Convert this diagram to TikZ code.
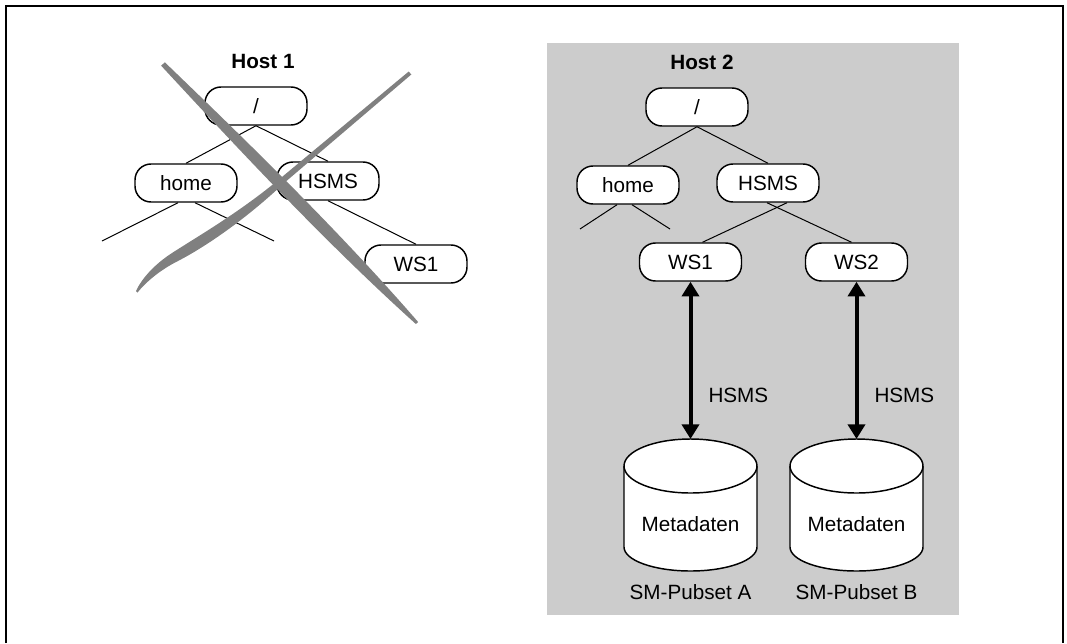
\documentclass[tikz,border=0pt]{standalone}
\usepackage{fontspec}
\setmainfont{Liberation Sans}
\usetikzlibrary{arrows.meta,calc}
\definecolor{hostgray}{HTML}{CCCCCC}
\definecolor{crossgray}{HTML}{808080}
\begin{document}
\begin{tikzpicture}[x=0.75pt,y=-0.75pt,
  every node/.style={font=\fontsize{15.5}{18}\selectfont},
  treenode/.style={draw, fill=white, line width=1.1pt, rounded corners=12pt,
    minimum width=76.5pt, minimum height=28.5pt, inner sep=0pt},
  treeline/.style={line width=0.75pt},
  dataarrow/.style={line width=3pt,
    {Triangle[length=11pt,width=12.75pt]}-{Triangle[length=11pt,width=12.75pt]}},
  hosttitle/.style={font=\fontsize{15.5}{18}\selectfont\bfseries},
  arrowlabel/.style={anchor=west, inner sep=0pt},
  crossstroke/.style={fill=crossgray, draw=none},
  cylbody/.style={draw, fill=white, line width=1.1pt},
  frameline/.style={line width=1.5pt}]
\useasboundingbox (0,0) rectangle (1067,643);
% frame and host 2 background
\draw[frameline] (5.5,643) -- (5.5,5.5) -- (1063,5.5) -- (1063,643);
\fill[hostgray] (547,43) rectangle (959,615);

% ---------------- Host 1 ----------------
\node[hosttitle] (h1title) at (263,61.5) {Host 1};
\node[treenode] (rootA) at (256,106) {/};
\node[treenode] (homeA) at (186,183) {home};
\node[treenode] (hsmsA) at (328,181) {HSMS};
\node[treenode] (wsA) at (416,264) {WS1};
\coordinate (leafA1) at (102,241);
\coordinate (leafA2) at (274,241);
\draw[treeline] (rootA.south) -- (homeA.north);
\draw[treeline] (rootA.south) -- (hsmsA.north);
\draw[treeline] (hsmsA.south) -- (wsA.north);
\draw[treeline] ($(homeA.south)+(-8,0)$) -- (leafA1);
\draw[treeline] ($(homeA.south)+(9,0)$) -- (leafA2);

% cross-out strokes
\fill[crossstroke] (164.8,62.25) .. controls (251.95,146.13) and (338.6,230.5) .. (418.1,321.95)
  -- (415.9,324.05) .. controls (326,242.9) and (243.39,154.53) .. (161.2,65.75) -- cycle;
\fill[crossstroke] (408.7,71.5) -- (281.1,177.7)
  .. controls (240,212) and (200,235) .. (172,253)
  .. controls (155,264) and (142,278) .. (136,291)
  -- (137.5,292.5)
  .. controls (146,282) and (160,270) .. (178,261)
  .. controls (205,247) and (245,220) .. (284.9,182.3)
  -- (411.3,74.5) -- cycle;

% ---------------- Host 2 ----------------
\node[hosttitle] (h2title) at (702,62.5) {Host 2};
\node[treenode] (rootB) at (697,107) {/};
\node[treenode] (homeB) at (628,185) {home};
\node[treenode] (hsmsB) at (768,183) {HSMS};
\node[treenode] (ws1B) at (690.5,262) {WS1};
\node[treenode] (ws2B) at (856.5,262) {WS2};
\coordinate (leafB1) at (580,229);
\coordinate (leafB2) at (670,229);
\draw[treeline] (rootB.south) -- (homeB.north);
\draw[treeline] (rootB.south) -- (hsmsB.north);
\draw[treeline] ($(homeB.south)+(-11,0)$) -- (leafB1);
\draw[treeline] ($(homeB.south)+(4,0)$) -- (leafB2);
\draw[treeline] ($(hsmsB.south)+(19,0)$) -- ($(ws1B.north)+(12,0)$);
\draw[treeline] ($(hsmsB.south)+(-1,0)$) -- ($(ws2B.north)+(-5,0)$);

% cylinders
\begin{scope}[shift={(690.5,0)}]
  \draw[cylbody] (-66.5,466) -- (-66.5,547) .. controls (-66.5,560.26) and (-36.73,571) .. (0,571)
    .. controls (36.73,571) and (66.5,560.26) .. (66.5,547) -- (66.5,466)
    .. controls (66.5,451.09) and (36.73,439) .. (0,439)
    .. controls (-36.73,439) and (-66.5,451.09) .. (-66.5,466) -- cycle;
  \draw[line width=1.1pt] (-66.5,466) .. controls (-66.5,480.91) and (-36.73,493) .. (0,493)
    .. controls (36.73,493) and (66.5,480.91) .. (66.5,466);
\end{scope}
\begin{scope}[shift={(856.5,0)}]
  \draw[cylbody] (-66.5,466) -- (-66.5,547) .. controls (-66.5,560.26) and (-36.73,571) .. (0,571)
    .. controls (36.73,571) and (66.5,560.26) .. (66.5,547) -- (66.5,466)
    .. controls (66.5,451.09) and (36.73,439) .. (0,439)
    .. controls (-36.73,439) and (-66.5,451.09) .. (-66.5,466) -- cycle;
  \draw[line width=1.1pt] (-66.5,466) .. controls (-66.5,480.91) and (-36.73,493) .. (0,493)
    .. controls (36.73,493) and (66.5,480.91) .. (66.5,466);
\end{scope}
\coordinate (cylAtop) at (690.5,439);
\coordinate (cylBtop) at (856.5,439);
\node (metaA) at (690.5,524) {Metadaten};
\node (metaB) at (856.5,524) {Metadaten};
\node[anchor=base] (pubA) at (690.5,599) {SM-Pubset A};
\node[anchor=base] (pubB) at (856.5,599) {SM-Pubset B};

% HSMS connections
\draw[dataarrow] (ws1B.south) -- (cylAtop)
  node[arrowlabel, pos=0.724, xshift=12pt] (lblA) {HSMS};
\draw[dataarrow] (ws2B.south) -- (cylBtop)
  node[arrowlabel, pos=0.724, xshift=12pt] (lblB) {HSMS};
\end{tikzpicture}
\end{document}
